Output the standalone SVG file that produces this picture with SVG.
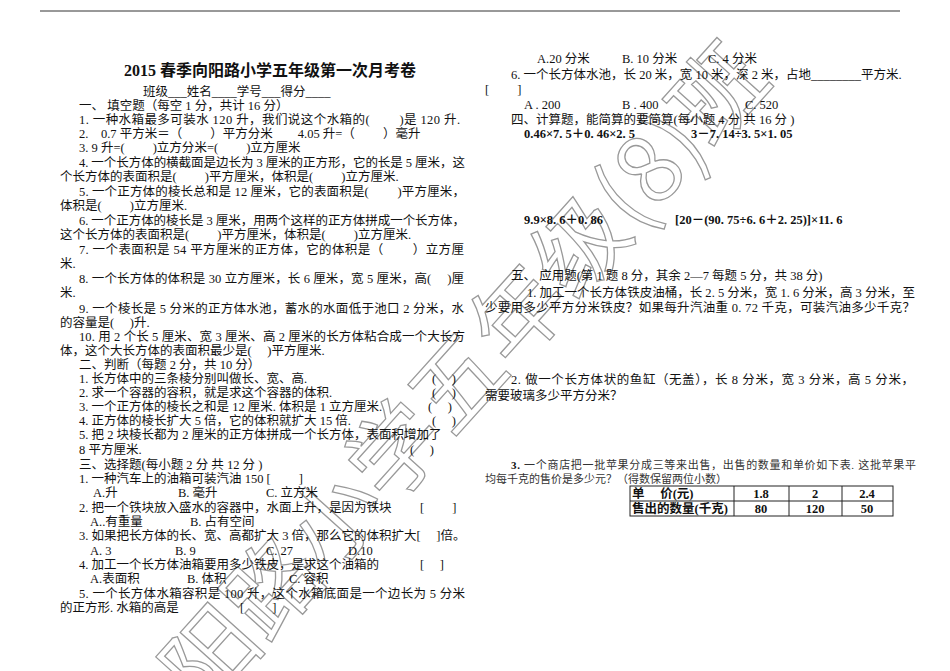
<svg xmlns="http://www.w3.org/2000/svg" width="950" height="671" viewBox="0 0 950 671">
<style>
text{font-family:"Liberation Serif","Noto Sans CJK SC",serif;font-size:12.5px;fill:#111}
.b{font-weight:bold}
.s{font-size:11px;fill:#333}
.wm{font-family:"Noto Sans CJK SC",sans-serif;font-size:92px;fill:none;stroke:#999;stroke-width:1.3}
</style>
<rect width="950" height="671" fill="#fff"/>
<line x1="40" y1="11" x2="900" y2="11" stroke="#333" stroke-width="1"/>
<g id="watermark"><text class="wm" transform="translate(205,712) rotate(-48)">阳路小学五年级(8)班</text></g>
<g id="left">
<text x="270" y="76" text-anchor="middle" class="b" style="font-size:16px">2015 春季向阳路小学五年级第一次月考卷</text>
<text x="143" y="96">班级___姓名____学号___得分____</text>
<text x="79" y="110">一、 填空题（每空 1 分，共计 16 分）</text>
<text x="79" y="124" textLength="381" lengthAdjust="spacing">1. 一种水箱最多可装水 120 升，我们说这个水箱的(　　 )是 120 升.</text>
<text x="79" y="138">2.　0.7 平方米＝（　　 ）平方分米　　4.05 升=（　　 ）毫升</text>
<text x="79" y="152">3.  9 升=(　　 )立方分米=(　　 )立方厘米</text>
<text x="79" y="167" textLength="386" lengthAdjust="spacing">4. 一个长方体的横截面是边长为 3 厘米的正方形，它的长是 5 厘米，这</text>
<text x="60" y="181">个长方体的表面积是(　　 )平方厘米，体积是(　　 )立方厘米.</text>
<text x="79" y="196" textLength="386" lengthAdjust="spacing">5. 一个正方体的棱长总和是 12 厘米，它的表面积是(　　 )平方厘米，</text>
<text x="60" y="210">体积是(　　 )立方厘米.</text>
<text x="79" y="225" textLength="386" lengthAdjust="spacing">6. 一个正方体的棱长是 3 厘米，用两个这样的正方体拼成一个长方体，</text>
<text x="60" y="239">这个长方体的表面积是(　　 )平方厘米，体积是(　　 )立方厘米.</text>
<text x="79" y="254" textLength="385" lengthAdjust="spacing">7. 一个表面积是 54 平方厘米的正方体，它的体积是（　　 ）立方厘</text>
<text x="60" y="268">米.</text>
<text x="79" y="283" textLength="385" lengthAdjust="spacing">8. 一个长方体的体积是 30 立方厘米，长 6 厘米，宽 5 厘米，高(　 )厘</text>
<text x="60" y="297">米.</text>
<text x="79" y="313" textLength="385" lengthAdjust="spacing">9. 一个棱长是 5 分米的正方体水池，蓄水的水面低于池口 2 分米，水</text>
<text x="60" y="327">的容量是(　 )升.</text>
<text x="79" y="341" textLength="386" lengthAdjust="spacing">10. 用 2 个长 5 厘米、宽 3 厘米、高 2 厘米的长方体粘合成一个大长方</text>
<text x="60" y="355">体，这个大长方体的表面积最少是(　 )平方厘米.</text>
<text x="79" y="369">二、判断（每题 2 分，共 10 分）</text>
<text x="79" y="383">1. 长方体中的三条棱分别叫做长、宽、高.</text><text x="432" y="383">(　 )</text>
<text x="79" y="397">2. 求一个容器的容积，就是求这个容器的体积.</text><text x="432" y="397">(　 )</text>
<text x="79" y="411">3. 一个正方体的棱长之和是 12 厘米. 体积是 1 立方厘米.</text><text x="428" y="411">(　 )</text>
<text x="79" y="425">4. 正方体的棱长扩大 5 倍，它的体积就扩大 15 倍.</text><text x="432" y="425">(　 )</text>
<text x="79" y="439">5. 把 2 块棱长都为 2 厘米的正方体拼成一个长方体，表面积增加了</text>
<text x="79" y="454">8 平方厘米.</text><text x="410" y="454">(　 )</text>
<text x="79" y="469">三、选择题(每小题 2 分 共 12 分 )</text>
<text x="79" y="483">1. 一种汽车上的油箱可装汽油 150 [　　 ]</text>
<text x="93" y="497">A.升</text><text x="178" y="497">B. 毫升</text><text x="266" y="497">C. 立方米</text>
<text x="79" y="512">2. 把一个铁块放入盛水的容器中，水面上升，是因为铁块</text><text x="420" y="512">[　　 ]</text>
<text x="90" y="526">A..有重量</text><text x="190" y="526">B. 占有空间</text>
<text x="79" y="540">3. 如果把长方体的长、宽、高都扩大 3 倍，那么它的体积扩大[　 ]倍。</text>
<text x="90" y="555">A. 3</text><text x="175" y="555">B. 9</text><text x="266" y="555">C. 27</text><text x="348" y="555">D.10</text>
<text x="79" y="569">4. 加工一个长方体油箱要用多少铁皮，是求这个油箱的</text><text x="420" y="569">[　 ]</text>
<text x="90" y="583">A.表面积</text><text x="187" y="583">B. 体积</text><text x="289" y="583">C. 容积</text>
<text x="79" y="598" textLength="386" lengthAdjust="spacing">5. 一个长方体水箱容积是 100 升，这个水箱底面是一个边长为 5 分米</text>
<text x="60" y="612">的正方形. 水箱的高是</text><text x="240" y="612">[　　 ]</text>
</g>
<g id="right">
<text x="537" y="63">A.20 分米</text><text x="622" y="63">B. 10 分米</text><text x="708" y="63">C. 4 分米</text>
<text x="511" y="79">6. 一个长方体水池，长 20 米，宽 10 米，深 2 米，占地________平方米.</text>
<text x="485" y="94">[　　 ]</text>
<text x="524" y="109">A . 200</text><text x="622" y="109">B . 400</text><text x="745" y="109">C. 520</text>
<text x="511" y="124">四、计算题，能简算的要简算(每小题 4 分 共 16 分 )</text>
<text x="524" y="138" class="b">0.46×7. 5＋0. 46×2. 5</text><text x="691" y="138" class="b">3－7. 14÷3. 5×1. 05</text>
<text x="524" y="224" class="b">9.9×8. 6＋0. 86</text><text x="675" y="224" class="b">[20－(90. 75÷6. 6＋2. 25)]×11. 6</text>
<text x="511" y="280">五、 应用题(第 1 题 8 分，其余 2—7 每题 5 分，共 38 分)</text>
<text x="527" y="297" textLength="388" lengthAdjust="spacing">1. 加工一个长方体铁皮油桶，长 2. 5 分米，宽 1. 6 分米，高 3 分米，至</text>
<text x="485" y="312" textLength="430" lengthAdjust="spacing">少要用多少平方分米铁皮？如果每升汽油重 0. 72 千克，可装汽油多少千克？</text>
<text x="511" y="384" textLength="403" lengthAdjust="spacing">2. 做一个长方体状的鱼缸（无盖），长 8 分米，宽 3 分米，高 5 分米，</text>
<text x="485" y="400">需要玻璃多少平方分米？</text>
<text x="511" y="469" class="s" textLength="405" lengthAdjust="spacing"><tspan class="b" style="fill:#111">3.</tspan> 一个商店把一批苹果分成三等来出售，出售的数量和单价如下表. 这批苹果平</text>
<text x="485" y="483" class="s">均每千克的售价是多少元？（得数保留两位小数）</text>
</g>
<g id="table" stroke="#222" stroke-width="1" fill="none">
<rect x="630" y="486" width="263" height="30"/>
<line x1="630" y1="501" x2="893" y2="501"/>
<line x1="734" y1="486" x2="734" y2="516"/>
<line x1="789" y1="486" x2="789" y2="516"/>
<line x1="842" y1="486" x2="842" y2="516"/>
</g>
<g id="tabletext">
<text x="632" y="498" class="b">单　 价(元)</text><text x="761" y="498" text-anchor="middle" class="b">1.8</text><text x="815" y="498" text-anchor="middle" class="b">2</text><text x="867" y="498" text-anchor="middle" class="b">2.4</text>
<text x="632" y="513" class="b">售出的数量(千克)</text><text x="761" y="513" text-anchor="middle" class="b">80</text><text x="815" y="513" text-anchor="middle" class="b">120</text><text x="867" y="513" text-anchor="middle" class="b">50</text>
</g>
</svg>
